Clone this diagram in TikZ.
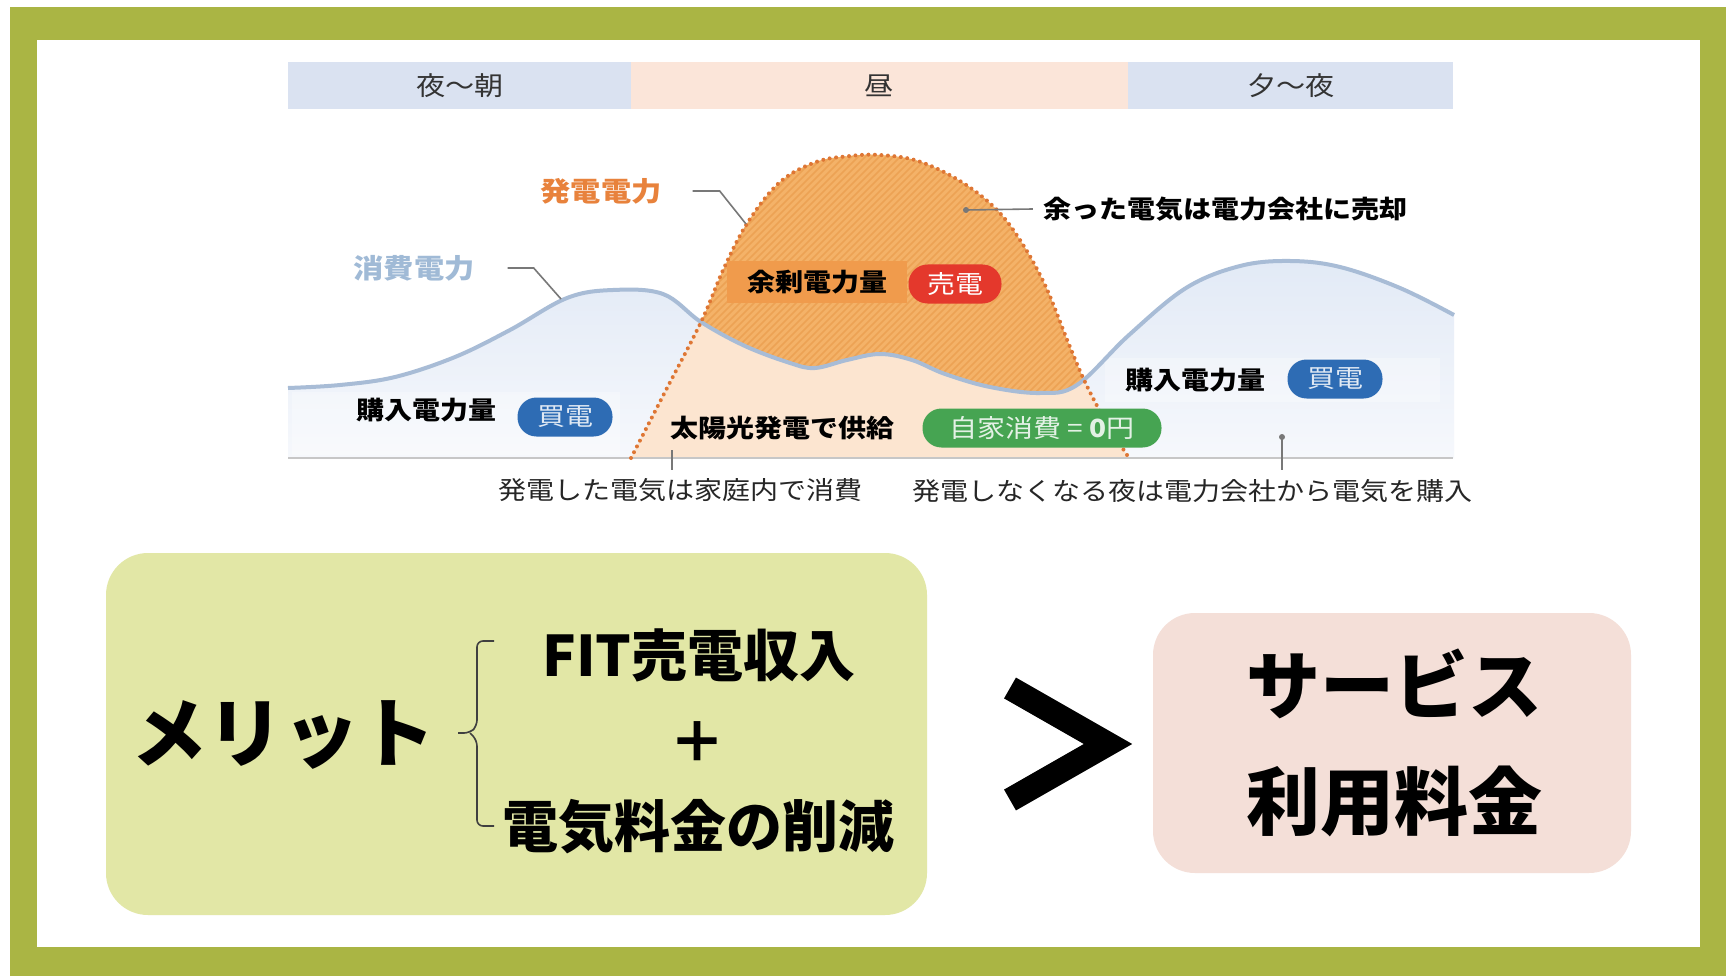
\documentclass[tikz,border=0pt]{standalone}
\usepackage{fontspec}
\setmainfont{Noto Sans CJK JP}
\newfontfamily\chartfont{Noto Sans CJK JP}[FakeStretch=1.12]
\definecolor{frameg}{RGB}{170,181,68}
\definecolor{hdrblue}{RGB}{218,226,241}
\definecolor{hdrpeach}{RGB}{251,229,217}
\definecolor{consline}{RGB}{168,188,214}
\definecolor{constop}{RGB}{226,234,246}
\definecolor{consbot}{RGB}{246,248,252}
\definecolor{genpeach}{RGB}{252,229,208}
\definecolor{genorange}{RGB}{244,178,104}
\definecolor{hatchc}{RGB}{236,162,84}
\definecolor{gendot}{RGB}{222,118,52}
\definecolor{surplusbox}{RGB}{240,155,76}
\definecolor{sellred}{RGB}{228,56,44}
\definecolor{buyblue}{RGB}{46,108,180}
\definecolor{selfgreen}{RGB}{70,164,82}
\definecolor{gentext}{RGB}{232,130,60}
\definecolor{constext}{RGB}{160,186,214}
\definecolor{meritbox}{RGB}{226,231,166}
\definecolor{costbox}{RGB}{244,223,216}
\definecolor{leader}{RGB}{120,120,120}
\tikzset{
  conspath/.style={insert path={-- plot[smooth,tension=0.6] coordinates {(288,388) (340,385) (395,377) (455,357) (510,330) (567,298) (613,290) (663,294) (701,322) (745,346) (790,363) (815,368) (847,360) (880,354) (912,360) (945,374) (990,387) (1040,393) (1077,385) (1129,335) (1186,288) (1240,266) (1290,261) (1340,267) (1400,288) (1454,315)}}},
  genpath/.style={insert path={-- plot[smooth,tension=0.6] coordinates {(631,458) (666,390) (701,322) (724,268) (748,222) (780,182) (816,162) (850,156) (880,155) (918,161) (960,181) (995,208) (1020,240) (1045,285) (1068,342) (1085,382) (1105,420) (1129,458)}}}
}
\begin{document}
\begin{tikzpicture}[x=1pt,y=-1pt,
  hdr/.style={inner sep=0pt, text=black!80, font=\chartfont\fontsize{26}{30}\selectfont},
  clabel/.style={inner sep=0pt, font=\chartfont\bfseries\fontsize{25}{30}\selectfont},
  captext/.style={inner sep=0pt, text=black!85, font=\chartfont\fontsize{25}{30}\selectfont},
  pill/.style={rounded corners=19pt, minimum height=39pt, inner xsep=0pt, inner ysep=0pt, font=\chartfont\fontsize{25}{30}\selectfont},
  leaderline/.style={draw=leader, line width=1.6pt},
  bigtext/.style={inner sep=0pt, font=\bfseries\fontsize{76}{90}\selectfont},
  midtext/.style={inner sep=0pt, font=\bfseries\fontsize{56}{66}\selectfont},
  panel/.style={rounded corners=42pt}]
\useasboundingbox (0,0) rectangle (1726,976);
% frame
\fill[white] (0,0) rectangle (1726,976);
\fill[frameg] (10,7) rectangle (1726,976);
\fill[white] (37,40) rectangle (1700,947);
% header bar
\fill[hdrblue] (288,62) rectangle (631,109);
\fill[hdrpeach] (631,62) rectangle (1128,109);
\fill[hdrblue] (1128,62) rectangle (1453,109);
\node[hdr] (h1) at (460,86) {夜〜朝};
\node[hdr] (h2) at (879,86) {昼};
\node[hdr] (h3) at (1291,86) {夕〜夜};
% consumption area
\shade[top color=constop, bottom color=consbot] (288,458) [conspath] -- (1454,458) -- cycle;
\fill[white, opacity=0.3] (292,392) rectangle (620,455);
\fill[white, opacity=0.3] (1105,358) rectangle (1440,402);
% generation area
\fill[genpeach] (631,458) [genpath] -- cycle;
\begin{scope}
  \clip (631,458) [genpath] -- cycle;
  \fill[genorange] (288,100) [conspath] -- (1454,100) -- cycle;
  \begin{scope}
    \clip (288,100) [conspath] -- (1454,100) -- cycle;
    \foreach \i in {0,7,...,840} \draw[hatchc, line width=1.5pt] (\i+300,470) -- ++(330,-330);
  \end{scope}
\end{scope}
% baseline
\draw[black!22, line width=1.6pt] (288,458) -- (1453,458);
% curves
\draw[consline, line width=4pt] (288,388) [conspath];
\draw[gendot, line width=4pt, line cap=round, dash pattern=on 0pt off 6.5pt] (631,458) [genpath];
% labels on chart
\node[clabel, text=gentext, font=\chartfont\bfseries\fontsize{27}{30}\selectfont] (genlbl) at (601,191) {発電電力};
\coordinate (genpt) at (746,224);
\draw[leaderline] ([xshift=31pt]genlbl.east) -- ++(27,0) -- (genpt);
\node[clabel, text=constext, font=\chartfont\bfseries\fontsize{27}{30}\selectfont] (conslbl) at (414,268) {消費電力};
\coordinate (conspt) at (561,299);
\draw[leaderline] ([xshift=33pt]conslbl.east) -- ++(26,0) -- (conspt);
\node[clabel] (selltxt) at (1225,209) {余った電気は電力会社に売却};
\coordinate (sellpt) at (966,210);
\draw[leaderline] (sellpt) -- ([xshift=-10pt]selltxt.west);
\fill[leader] (sellpt) circle (3pt);
\node[clabel, fill=surplusbox, minimum width=180pt, minimum height=41pt] (surplus) at (817,282) {余剰電力量};
\node[pill, fill=sellred, text=white, minimum width=93pt] (sell) at (955,284) {売電};
\node[clabel] (buyL) at (426,410) {購入電力量};
\node[pill, fill=buyblue, text=white!85!buyblue, minimum width=95pt] (buyLp) at (565,417) {買電};
\node[clabel] (solar) at (782,428) {太陽光発電で供給};
\node[pill, fill=selfgreen, text=white!85!selfgreen, minimum width=239pt] (self) at (1042,428) {自家消費 = {\bfseries 0}円};
\node[clabel] (buyR) at (1195,380) {購入電力量};
\node[pill, fill=buyblue, text=white!85!buyblue, minimum width=95pt] (buyRp) at (1335,379) {買電};
% captions
\node[captext] (cap1) at (680,490) {発電した電気は家庭内で消費};
\node[captext] (cap2) at (1192,491) {発電しなくなる夜は電力会社から電気を購入};
\coordinate (tick1) at (672,450);
\coordinate (tick1e) at (672,470);
\draw[leader, line width=1.4pt] (tick1) -- (tick1e);
\coordinate (buypt) at (1282,437);
\coordinate (buyte) at (1282,470);
\draw[leader, line width=1.4pt] (buypt) -- (buyte);
\fill[leader] (buypt) circle (3pt);
% merit panel
\fill[meritbox, panel] (106,553) rectangle (927,915);
\node[bigtext] (merit) at (283,735) {メリット};
\draw[black!75, line width=1.6pt, rounded corners=6pt] (494,641) -- (477,641) -- (477,726) -- (470,733) -- (458,733);
\draw[black!75, line width=1.6pt, rounded corners=6pt] (470,733) -- (477,740) -- (477,826) -- (494,826);
\node[midtext] (fit) at (699,655) {FIT売電収入};
\node[midtext] (plus) at (697,742) {＋};
\node[midtext] (cut) at (698,827) {電気料金の削減};
% greater-than sign
\coordinate (chevA) at (1010,688);
\coordinate (chevB) at (1108,744);
\coordinate (chevC) at (1010,800);
\draw[black, line width=24pt, line join=miter, miter limit=10] (chevA) -- (chevB) -- (chevC);
% cost panel
\fill[costbox, panel] (1153,613) rectangle (1631,873);
\node[bigtext, font=\bfseries\fontsize{74}{88}\selectfont] (svc) at (1394,684) {サービス};
\node[bigtext, font=\bfseries\fontsize{74}{88}\selectfont] (fee) at (1394,801) {利用料金};
\end{tikzpicture}
\end{document}
